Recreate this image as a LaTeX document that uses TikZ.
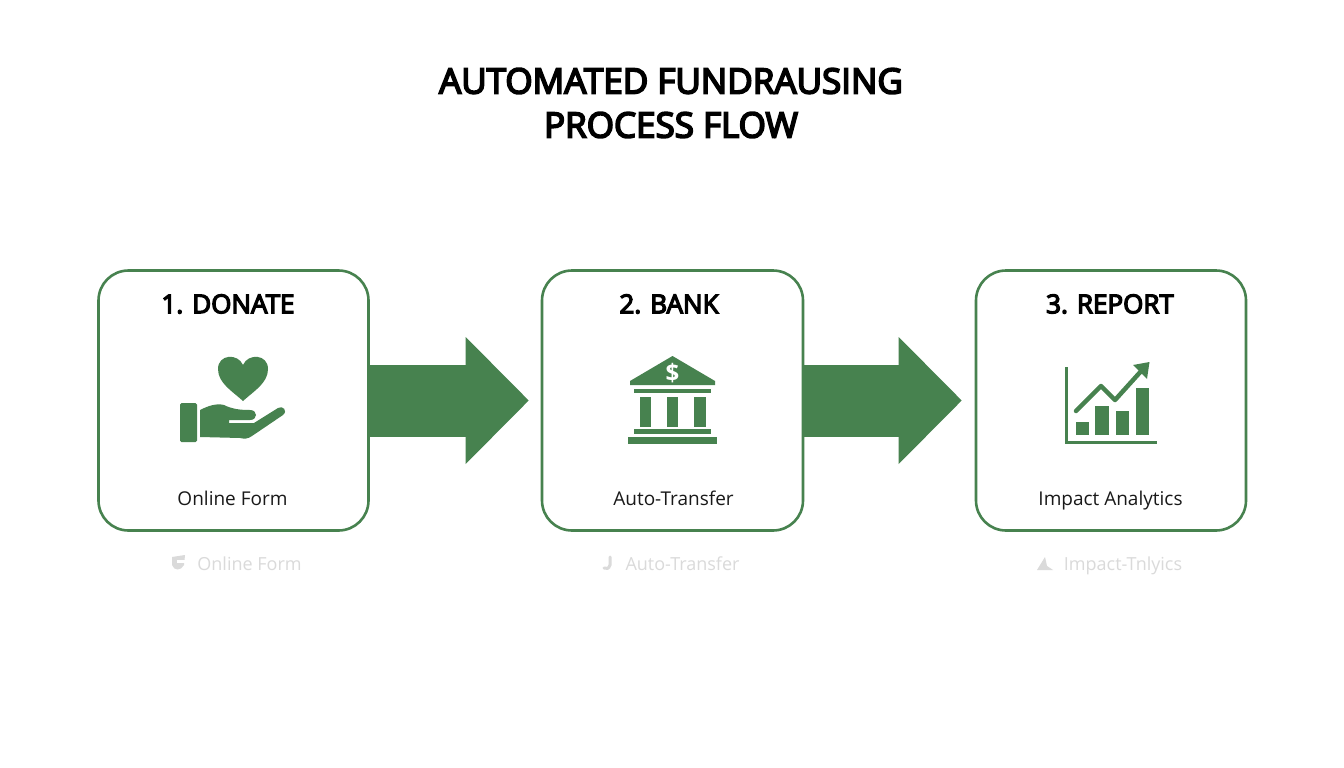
\documentclass[tikz,border=0pt]{standalone}
\usepackage{fontspec}
\setmainfont{Open Sans}
\newfontfamily\semifont[FakeBold=5]{Open Sans}
\usetikzlibrary{arrows.meta}
\definecolor{leaf}{HTML}{47824F}
\definecolor{ghost}{HTML}{DADADA}
\newcommand{\px}[1]{\fontsize{#1}{#1}\selectfont}
\tikzset{
  stepbox/.style   = {shape=rectangle, rounded corners=30pt, draw=leaf,
                      line width=2.6pt, fill=white, minimum width=270pt,
                      minimum height=260pt},
  headline/.style  = {font=\px{35}\semifont, align=center, text=black},
  steptitle/.style = {font=\px{26}\semifont, text=black},
  caption/.style   = {font=\px{19}, text=black!90, text height=14pt, text depth=4pt},
  echo/.style      = {font=\px{18}, text=ghost, text height=14pt, text depth=4pt},
  flow/.style      = {draw=leaf, line width=72pt,
                      -{Triangle[length=63pt,width=127pt,line width=0pt,fill=leaf]}},
  icon/.style      = {fill=leaf, draw=none},
  iconline/.style  = {draw=leaf, line width=3pt}
}
\begin{document}
\begin{tikzpicture}[x=1pt,y=-1pt]
\useasboundingbox[fill=white] (0,0) rectangle (1344,768);

\node[headline] (title) at (671,103) {AUTOMATED FUNDRAUSING\\[9pt]PROCESS FLOW};

\node[stepbox] (donate) at (233.5,400.5) {};
\node[stepbox, minimum width=261pt] (bank) at (672.5,400.5) {};
\node[stepbox] (report) at (1111,400.5) {};

% arrows
\draw[flow, shorten <=-1pt, shorten >=12pt] (donate.east) -- (bank.west);
\draw[flow, shorten <=-1pt, shorten >=13pt] (bank.east) -- (report.west);

\node[steptitle] (donatetitle) at (228,304) {1. DONATE};
\node[steptitle] (banktitle)   at (669,304) {2. BANK};
\node[steptitle] (reporttitle) at (1110,304) {3. REPORT};

\node[caption] (donatecap) at (232.5,500) {Online Form};
\node[caption] (bankcap)   at (673.5,500) {Auto-Transfer};
\node[caption] (reportcap) at (1110.5,500) {Impact Analytics};

\node[echo] (donateecho) at (249.5,565) {Online Form};
\node[echo] (bankecho)   at (682.5,565) {Auto-Transfer};
\node[echo] (reportecho) at (1123,565) {Impact-Tnlyics};

% heart and hand
\fill[icon] (243,401) .. controls (232,391) and (218,383) .. (218,369)
  .. controls (218,354) and (238,353) .. (243,365)
  .. controls (248,353) and (268,354) .. (268,369)
  .. controls (268,383) and (254,391) .. (243,401) -- cycle;
\fill[icon, rounded corners=1.5pt] (180,403) rectangle (197,442);
\fill[icon] (200,410) .. controls (208,406) and (216,403) .. (224,405)
  .. controls (232,409) and (240,410) .. (250,410)
  .. controls (258,410) and (258,420) .. (250,420)
  -- (229,420) -- (229,423) -- (254,423) -- (278,408)
  .. controls (283,405) and (288,411) .. (283,415)
  -- (252,436) .. controls (248,439) and (244,439) .. (240,438)
  -- (200,437) -- cycle;
\fill[ghost] (172,557) -- (185,555) -- (184,565) .. controls (181,571) and (174,571) .. (172,565) -- cycle;
\fill[white] (177,560) rectangle (186,563);

% bank
\fill[icon] (672.5,356) -- (715,381) -- (715,385) -- (630,385) -- (630,381) -- cycle;
\fill[icon] (634,389) rectangle (711,393);
\fill[icon] (640,397) rectangle (651,427);
\fill[icon] (667,397) rectangle (678,427);
\fill[icon] (694,397) rectangle (706,427);
\fill[icon] (634,429) rectangle (711,434);
\fill[icon] (628,437) rectangle (717,444);
\node[font=\px{24}\bfseries, text=white] (dollar) at (672.5,373) {\$};
\draw[ghost, line width=3pt, line cap=round] (610,557) -- (610,565) .. controls (609,569) and (606,569) .. (604,568);

% chart
\draw[iconline] (1066.5,367) -- (1066.5,442) -- (1157,442);
\fill[icon] (1076,422) rectangle (1089,435);
\fill[icon] (1095,406) rectangle (1109,435);
\fill[icon] (1116,411) rectangle (1129,435);
\fill[icon] (1136,388) rectangle (1149,435);
\draw[iconline, line width=4.5pt, line cap=round, line join=round]
  (1076,411) -- (1101,386) -- (1115,400) -- (1143,369);
\fill[icon] (1149.5,362) -- (1133,365) -- (1147,379) -- cycle;
\fill[ghost] (1037,570) -- (1045,557) -- (1047,566) -- (1053,570) -- cycle;
\end{tikzpicture}
\end{document}
